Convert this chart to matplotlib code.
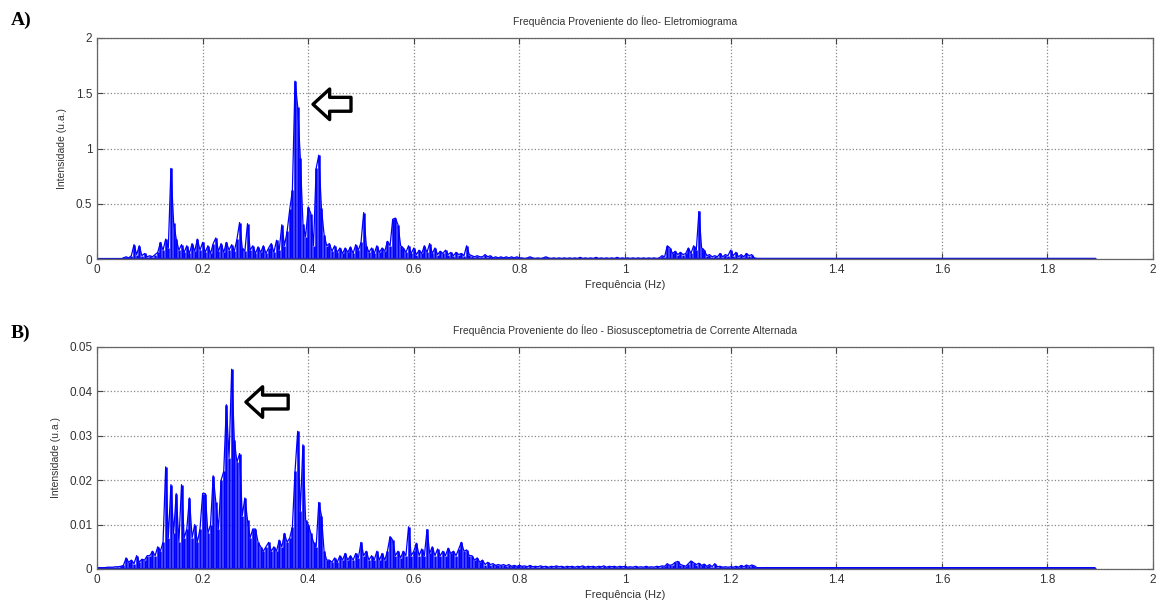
import numpy as np
import matplotlib
matplotlib.use("Agg")
import matplotlib.pyplot as plt

# espectros: bins de 0.005 Hz de 0 a 1.25 Hz, depois cauda plana ate 1.89 Hz
PASSO = 0.005
FREQ_FIM = 1.89

# A) Eletromiograma (u.a.)
amp_A = [
    0.00, 0.00, 0.00, 0.00, 0.00, 0.00, 0.00, 0.00, 0.00, 0.00, 0.01, 0.02, 0.01, 0.03, 0.13, 0.04, 0.12, 0.03, 0.05, 0.02,  # 0.0
    0.03, 0.02, 0.04, 0.06, 0.15, 0.08, 0.18, 0.10, 0.82, 0.33, 0.18, 0.08, 0.13, 0.06, 0.12, 0.05, 0.14, 0.07, 0.18, 0.08,  # 0.1
    0.15, 0.06, 0.12, 0.05, 0.14, 0.19, 0.07, 0.14, 0.06, 0.15, 0.08, 0.13, 0.07, 0.18, 0.33, 0.10, 0.07, 0.32, 0.08, 0.12,  # 0.2
    0.05, 0.11, 0.06, 0.12, 0.05, 0.10, 0.14, 0.06, 0.17, 0.08, 0.31, 0.12, 0.25, 0.45, 0.62, 1.61, 1.38, 0.91, 0.32, 0.20,  # 0.3
    0.47, 0.41, 0.12, 0.82, 0.94, 0.46, 0.22, 0.12, 0.14, 0.07, 0.12, 0.06, 0.10, 0.05, 0.10, 0.06, 0.11, 0.05, 0.13, 0.08,  # 0.4
    0.15, 0.42, 0.12, 0.06, 0.10, 0.05, 0.12, 0.06, 0.10, 0.07, 0.16, 0.12, 0.36, 0.37, 0.31, 0.12, 0.10, 0.06, 0.12, 0.05,  # 0.5
    0.10, 0.04, 0.08, 0.05, 0.12, 0.06, 0.14, 0.05, 0.10, 0.04, 0.07, 0.05, 0.08, 0.04, 0.06, 0.03, 0.06, 0.04, 0.05, 0.03,  # 0.6
    0.12, 0.04, 0.03, 0.02, 0.03, 0.02, 0.02, 0.04, 0.02, 0.03, 0.01, 0.02, 0.01, 0.02, 0.01, 0.02, 0.01, 0.02, 0.01, 0.02,  # 0.7
    0.01, 0.01, 0.005, 0.01, 0.02, 0.01, 0.005, 0.01, 0.005, 0.01, 0.02, 0.01, 0.005, 0.01, 0.005, 0.01, 0.005, 0.01, 0.005, 0.01,  # 0.8
    0.005, 0.01, 0.005, 0.015, 0.005, 0.01, 0.005, 0.01, 0.005, 0.015, 0.005, 0.01, 0.005, 0.01, 0.005, 0.01, 0.005, 0.015, 0.005, 0.01,  # 0.9
    0.005, 0.01, 0.005, 0.01, 0.005, 0.01, 0.005, 0.01, 0.005, 0.01, 0.005, 0.01, 0.005, 0.01, 0.03, 0.02, 0.12, 0.10, 0.05, 0.07,  # 1.0
    0.04, 0.06, 0.04, 0.05, 0.10, 0.05, 0.12, 0.08, 0.43, 0.10, 0.08, 0.03, 0.04, 0.02, 0.03, 0.02, 0.05, 0.02, 0.04, 0.03,  # 1.1
    0.08, 0.03, 0.06, 0.02, 0.04, 0.02, 0.05, 0.03, 0.04, 0.01, 0.005,  # 1.2
]
cauda_A = 0.005

# B) Biosusceptometria de Corrente Alternada (x 1e-3 u.a.)
amp_B_mil = [
    0.3, 0.3, 0.3, 0.3, 0.4, 0.4, 0.4, 0.5, 0.5, 0.6, 0.8, 2.5, 1.5, 2.0, 1.2, 3.0, 1.5, 2.2, 2.0, 3.0,  # 0.0
    3, 4, 3, 5, 4, 6, 23, 7, 19, 8, 17, 6, 19, 7, 9, 16, 7, 10, 6, 9,  # 0.1
    17, 17, 8, 10, 21, 15, 9, 20, 22, 37, 25, 45, 29, 24, 26, 12, 16, 11, 7, 9,  # 0.2
    9, 6, 5, 4, 5, 6, 4, 5, 4, 6.5, 5, 8, 6, 7, 9.5, 22, 31, 13, 28, 11,  # 0.3
    10, 8, 6, 5, 15, 12, 4, 2, 2, 1.5, 2.5, 1.5, 3, 2, 3.5, 2, 3, 2, 3.5, 2.5,  # 0.4
    6, 3, 4, 2, 3, 2, 4, 2, 3.5, 2, 4, 7.3, 6.5, 3, 4, 2.5, 4, 3, 9.5, 3,  # 0.5
    4, 5.8, 3, 4.5, 3, 8.9, 3.5, 5, 3, 4.5, 3, 4, 3, 4.7, 3.5, 4, 3, 4.5, 6, 4,  # 0.6
    4.3, 3, 3, 2, 2.5, 1.5, 2, 1, 1.5, 1, 1.2, 0.8, 1, 0.8, 1, 0.7, 1, 0.6, 0.8, 0.6,  # 0.7
    0.8, 0.6, 0.7, 0.5, 0.8, 0.5, 0.6, 0.5, 0.7, 0.5, 0.6, 0.4, 0.6, 0.5, 0.7, 0.5, 0.6, 0.4, 0.6, 0.5,  # 0.8
    0.6, 0.4, 0.6, 0.5, 0.7, 0.4, 0.6, 0.5, 0.6, 0.4, 0.6, 0.5, 0.7, 0.4, 0.6, 0.5, 0.6, 0.4, 0.6, 0.5,  # 0.9
    0.6, 0.4, 0.5, 0.4, 0.6, 0.4, 0.5, 0.4, 0.6, 0.4, 0.5, 0.4, 0.6, 0.5, 0.7, 0.6, 1.2, 0.8, 1.0, 1.5,  # 1.0
    1.7, 1.0, 0.8, 0.6, 1.2, 1.8, 1.4, 1.0, 1.3, 0.8, 1.1, 0.6, 1.0, 0.5, 1.2, 0.5, 0.6, 0.4, 0.5, 0.4,  # 1.1
    0.5, 0.4, 0.6, 0.4, 0.8, 0.5, 0.9, 0.6, 0.9, 0.7, 0.3,  # 1.2
]
cauda_B_mil = 0.3

titulos = ["Frequência Proveniente do Íleo- Eletromiograma",
           "Frequência Proveniente do Íleo - Biosusceptometria de Corrente Alternada"]
rotulos = ["A)", "B)"]
yticks_A = [0, 0.5, 1, 1.5, 2]
yticks_B = [0, 0.01, 0.02, 0.03, 0.04, 0.05]
xticks = [0, 0.2, 0.4, 0.6, 0.8, 1, 1.2, 1.4, 1.6, 1.8, 2]
# ponta da seta (freq, intensidade) em cada painel
seta_A = (0.409, 1.40)
seta_B = (0.282, 0.0376)


def montar(amp, cauda):
    f = np.arange(len(amp)) * PASSO
    f = np.append(f, FREQ_FIM)
    a = np.append(np.array(amp, dtype=float), cauda)
    return f, a


fA, aA = montar(amp_A, cauda_A)
fB, aB = montar(amp_B_mil, cauda_B_mil)
aB = aB * 1e-3

plt.rcParams['font.family'] = ['Liberation Sans', 'DejaVu Sans']
fig = plt.figure(figsize=(11.65, 6.06), dpi=100)
axA = fig.add_axes([0.0833, 0.5726, 0.9064, 0.3647])
axB = fig.add_axes([0.0833, 0.0611, 0.9064, 0.3663])

azul = '#0000ff'
for ax, f, a, yt, ttl, seta, lab, ylab_y, dx in [
        (axA, fA, aA, yticks_A, titulos[0], seta_A, rotulos[0], 0.967, 0.072),
        (axB, fB, aB, yticks_B, titulos[1], seta_B, rotulos[1], 0.450, 0.080)]:
    ax.vlines(f, 0, a, color=azul, lw=1.8)
    ax.plot(f, a, color=azul, lw=0.9)
    ax.plot(f, np.zeros_like(f), color='#1a1acc', lw=1.6)
    ax.set_xlim(0, 2)
    ax.set_ylim(yt[0], yt[-1])
    ax.set_xticks(xticks)
    ax.set_xticklabels([f"{v:g}" for v in xticks])
    ax.set_yticks(yt)
    ax.set_yticklabels([f"{v:g}" for v in yt])
    ax.grid(True, linestyle=':', color='#888888', lw=0.9)
    ax.tick_params(direction='in', top=True, right=True, length=4,
                   colors='#444444', labelsize=8.5, labelcolor='#333333')
    for s in ax.spines.values():
        s.set_color('#666666')
        s.set_linewidth(0.9)
    ax.set_xlabel("Frequência (Hz)", fontsize=8, color='#333333', labelpad=3)
    ax.set_ylabel("Intensidade (u.a.)", fontsize=7.5, color='#333333', labelpad=6)
    ax.set_title(ttl, fontsize=7.5, color='#333333', pad=9)
    # seta vazada apontando para o pico
    ax.annotate('', xy=seta, xytext=(seta[0] + dx, seta[1]),
                arrowprops=dict(arrowstyle='simple,head_length=0.6,head_width=1.1,tail_width=0.5',
                                mutation_scale=20, fc='white', ec='black', lw=2.4,
                                shrinkA=0, shrinkB=0))
    fig.text(0.009, ylab_y, lab, fontsize=14, fontweight='bold',
             family='Liberation Serif', va='center', ha='left')

fig.savefig("out.png", dpi=100)
